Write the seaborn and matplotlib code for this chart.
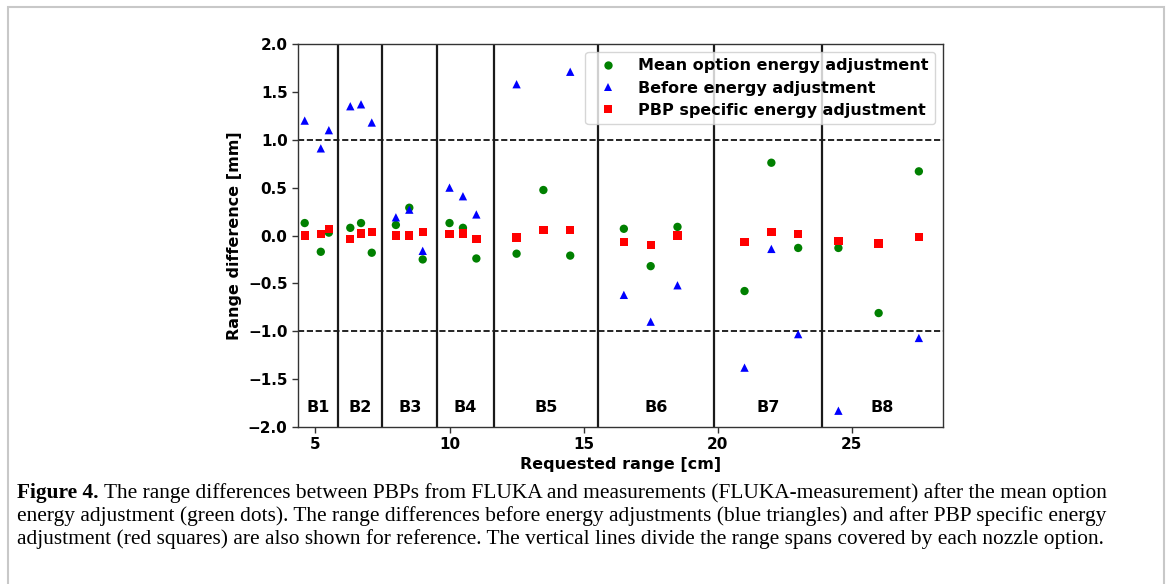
import matplotlib
matplotlib.use("Agg")
import matplotlib.pyplot as plt
import seaborn as sns
import numpy as np
import pandas as pd
from matplotlib.patches import Rectangle

nan = np.nan
# ---------------- data ----------------
requested_range = [4.6, 5.2, 5.5, 6.3, 6.7, 7.1, 8.0, 8.5, 9.0, 10.0, 10.5, 11.0,
                   12.5, 13.5, 14.5, 16.5, 17.5, 18.5, 21.0, 22.0, 23.0, 24.5, 26.0, 27.5]
mean_option = [0.13, -0.17, 0.03, 0.08, 0.13, -0.18, 0.11, 0.29, -0.25, 0.13, 0.08, -0.24,
               -0.19, 0.475, -0.21, 0.07, -0.32, 0.09, -0.58, 0.76, -0.13, -0.13, -0.81, 0.67]
before_adj = [1.20, 0.91, 1.10, 1.35, 1.37, 1.18, 0.19, 0.27, -0.16, 0.50, 0.41, 0.22,
              1.58, nan, 1.71, -0.62, -0.90, -0.52, -1.38, -0.14, -1.03, -1.83, nan, -1.07]
pbp_specific = [0.0, 0.015, 0.065, -0.035, 0.02, 0.035, 0.0, 0.0, 0.035, 0.015, 0.02, -0.04,
                -0.02, 0.06, 0.06, -0.065, -0.10, 0.0, -0.07, 0.04, 0.015, -0.055, -0.085, -0.015]
series_names = ["Mean option energy adjustment", "Before energy adjustment",
                "PBP specific energy adjustment"]
option_names = ["B1", "B2", "B3", "B4", "B5", "B6", "B7", "B8"]
option_bounds = [5.85, 7.5, 9.55, 11.65, 15.55, 19.85, 23.9]
limit_lines = [1.0, -1.0]
y_ticks = [-2.0, -1.5, -1.0, -0.5, 0.0, 0.5, 1.0, 1.5, 2.0]
x_ticks = [5, 10, 15, 20, 25]

caption_bold = "Figure 4."
caption_lines = [
    " The range differences between PBPs from FLUKA and measurements (FLUKA-measurement) after the mean option",
    "energy adjustment (green dots). The range differences before energy adjustments (blue triangles) and after PBP specific energy",
    "adjustment (red squares) are also shown for reference. The vertical lines divide the range spans covered by each nozzle option.",
]

# ---------------- figure ----------------
sns.set_style("ticks")
plt.rcParams['font.family'] = ['DejaVu Sans']
plt.rcParams['text.color'] = 'black'
plt.rcParams['axes.labelcolor'] = 'black'
plt.rcParams['xtick.color'] = 'black'
plt.rcParams['ytick.color'] = 'black'

W, H = 1170, 584
fig = plt.figure(figsize=(W / 100, H / 100), dpi=100)
ax = fig.add_axes([298 / W, 1 - 427 / H, (943 - 298) / W, (427 - 44) / H])

df = pd.DataFrame({
    "x": requested_range * 3,
    "y": mean_option + before_adj + pbp_specific,
    "series": [series_names[0]] * len(requested_range)
              + [series_names[1]] * len(requested_range)
              + [series_names[2]] * len(requested_range),
}).dropna()

palette = {series_names[0]: "#008000", series_names[1]: "#0000ff", series_names[2]: "#ff0000"}
markers = {series_names[0]: "o", series_names[1]: "^", series_names[2]: "s"}

sns.scatterplot(data=df, x="x", y="y", hue="series", style="series",
                hue_order=series_names, style_order=series_names,
                palette=palette, markers=markers, s=36, linewidth=0, ax=ax, zorder=3)

for yl in limit_lines:
    ax.axhline(yl, color="black", linestyle="--", linewidth=1.2, zorder=1)
for xb in option_bounds:
    ax.axvline(xb, color="#1a1a1a", linewidth=1.6, zorder=1)

xlim = (4.35, 28.4)
ax.set_xlim(*xlim)
ax.set_ylim(-2.0, 2.0)
edges = [xlim[0]] + option_bounds + [xlim[1]]
for name, a, b in zip(option_names, edges[:-1], edges[1:]):
    ax.text((a + b) / 2, -1.8, name, ha="center", va="center",
            fontsize=11.5, fontweight="bold", color="black")

ax.set_xticks(x_ticks)
ax.set_yticks(y_ticks)
ax.set_yticklabels([f"{v:.1f}".replace("-", "\u2212") for v in y_ticks])
ax.tick_params(axis="both", labelsize=11, direction="out", length=4, width=1,
               color="#333333", labelcolor="black")
for lab in ax.get_xticklabels() + ax.get_yticklabels():
    lab.set_fontweight("bold")
for sp in ax.spines.values():
    sp.set_color("#333333")
    sp.set_linewidth(1.0)
    sp.set_visible(True)

ax.set_xlabel("Requested range [cm]", fontsize=11.5, fontweight="bold", labelpad=3)
ax.set_ylabel("Range difference [mm]", fontsize=11.5, fontweight="bold", labelpad=4)

handles, labels = ax.get_legend_handles_labels()
for h in handles:
    try:
        h.set_markersize(6)
    except Exception:
        pass
ax.legend(handles, labels, loc="upper right", prop={"weight": "bold", "size": 11.5},
          frameon=True, framealpha=0.8, edgecolor="#cccccc", fancybox=True,
          handletextpad=0.9, borderpad=0.4, labelspacing=0.45)

# outer border
fig.patches.append(Rectangle((8 / W, -0.05), (1164 - 8) / W, 1.05 - 7 / H,
                             transform=fig.transFigure, fill=False,
                             edgecolor="#c8c8c8", linewidth=1.5))

# caption
serif = ["Liberation Serif", "DejaVu Serif"]
renderer = fig.canvas.get_renderer()
probe = fig.text(0, 0, caption_lines[2], family=serif, fontsize=10)
wprobe = probe.get_window_extent(renderer).width
probe.remove()
cap_size = 10 * (1100.5 - 17) / wprobe

line_y = [493, 516, 539]
x0 = 17 / W
tb = fig.text(x0, 1 - line_y[0] / H, caption_bold, family=serif, fontsize=cap_size,
              fontweight="bold", va="center", ha="left", color="black")
wb = tb.get_window_extent(renderer).width
fig.text(x0 + wb / W, 1 - line_y[0] / H, caption_lines[0], family=serif,
         fontsize=cap_size, va="center", ha="left", color="black")
for txt, yy in zip(caption_lines[1:], line_y[1:]):
    fig.text(x0, 1 - yy / H, txt, family=serif, fontsize=cap_size, va="center",
             ha="left", color="black")

fig.savefig("out.png", dpi=100)
